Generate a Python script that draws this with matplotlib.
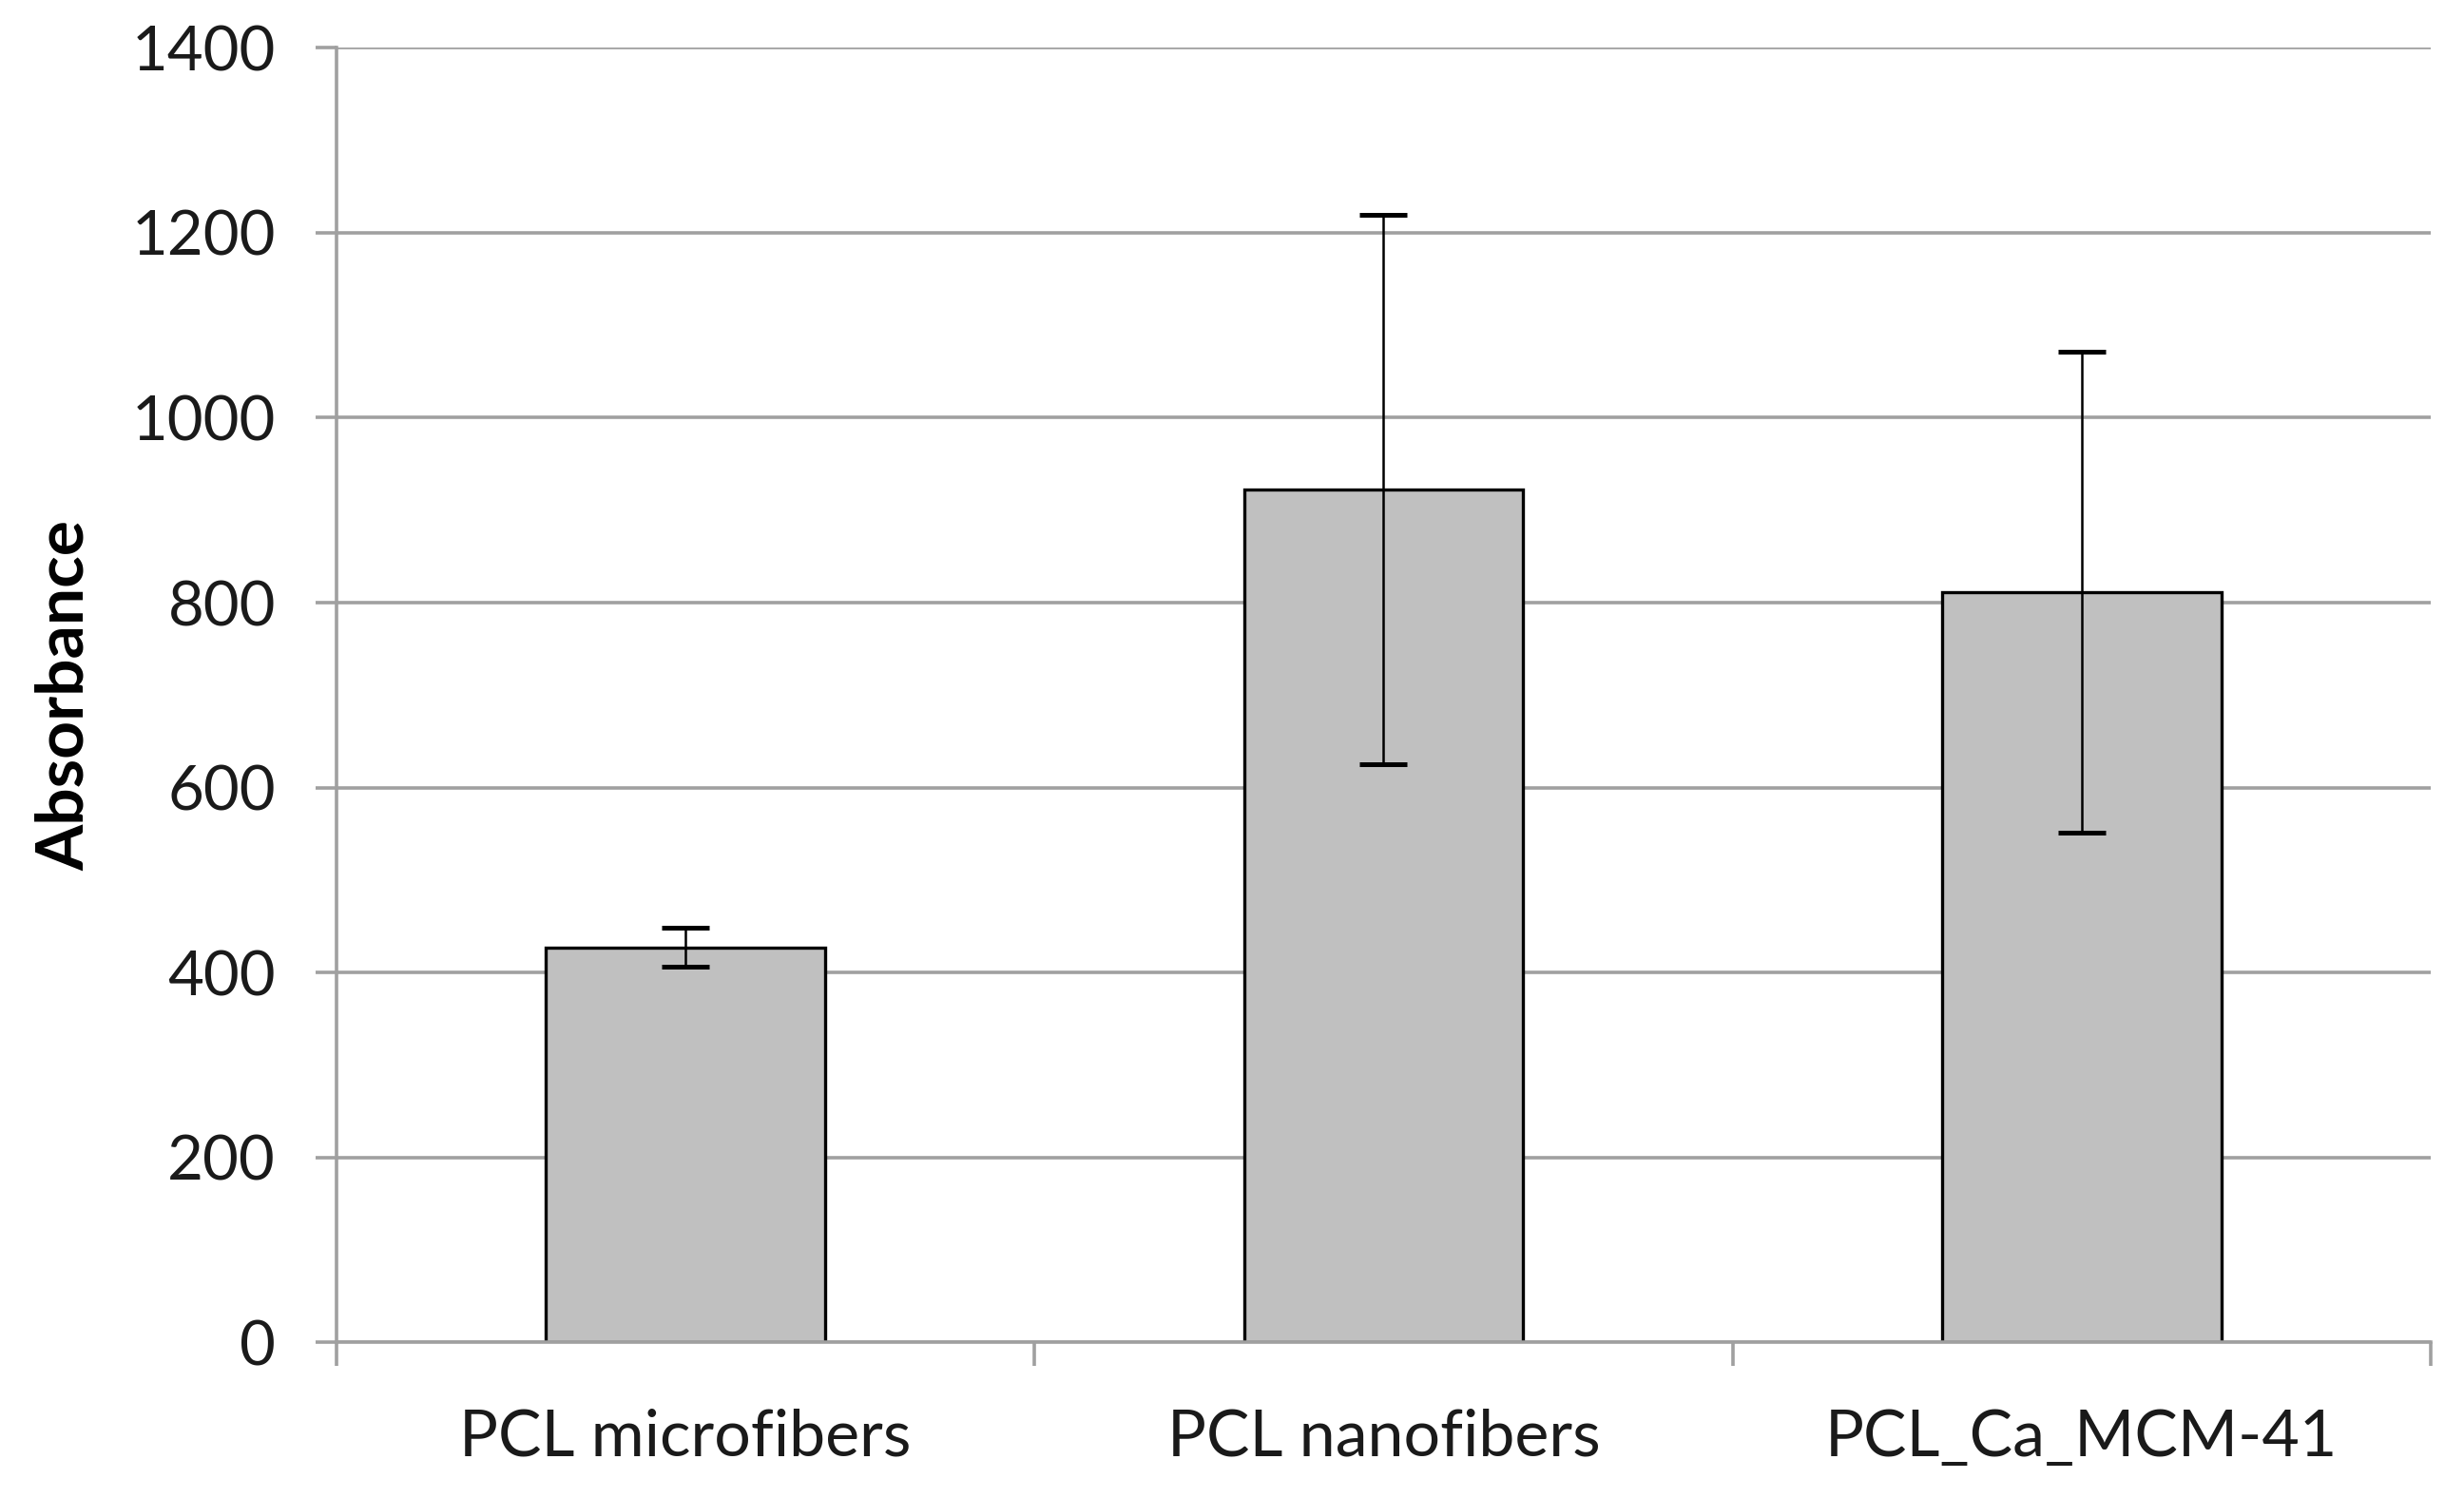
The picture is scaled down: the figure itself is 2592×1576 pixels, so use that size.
import matplotlib
matplotlib.use("Agg")
import matplotlib.pyplot as plt
import numpy as np

categories = ["PCL microfibers", "PCL nanofibers", "PCL_Ca_MCM-41"]
absorbance = [427, 922, 811]
error = [21, 297, 260]
y_ticks = [0, 200, 400, 600, 800, 1000, 1200, 1400]

plt.rcParams["font.family"] = ["Lato", "DejaVu Sans"]

fig = plt.figure(figsize=(12.96, 7.88), dpi=200)
ax = fig.add_axes([0.1365, 0.1040, 0.8500, 0.8640])

grid_c = "#a0a0a0"
x = np.arange(len(categories))
ax.bar(x, absorbance, width=0.4, color="#c0c0c0", edgecolor="black",
       linewidth=1.2, zorder=2)
ax.errorbar(x, absorbance, yerr=error, fmt="none", ecolor="black",
            elinewidth=0.9, capsize=9, capthick=1.8, zorder=3)

ax.set_xlim(-0.5, len(categories) - 0.5)
ax.set_ylim(0, 1400)
ax.set_yticks(y_ticks)
ax.set_yticklabels([str(v) for v in y_ticks], fontsize=23.5, color="#1a1a1a")
ax.yaxis.grid(True, color=grid_c, linewidth=1.3, zorder=0)
ax.set_axisbelow(True)

# category labels centred, ticks on the boundaries
ax.set_xticks(np.arange(len(categories) + 1) - 0.5)
ax.set_xticklabels([])
ax.set_xticks(x, minor=True)
ax.set_xticklabels(categories, minor=True, fontsize=24.5, color="#1a1a1a")
ax.tick_params(axis="x", which="minor", length=0, pad=25)
ax.tick_params(axis="x", which="major", length=9, width=1.3, color=grid_c)
ax.tick_params(axis="y", length=8, width=1.3, color=grid_c, pad=15)

for side in ("top", "right"):
    ax.spines[side].set_visible(False)
for side in ("left", "bottom"):
    ax.spines[side].set_color(grid_c)
    ax.spines[side].set_linewidth(1.3)

ax.set_ylabel("Absorbance", fontsize=25, fontweight="bold", labelpad=14)

fig.savefig("out.png", dpi=200)
